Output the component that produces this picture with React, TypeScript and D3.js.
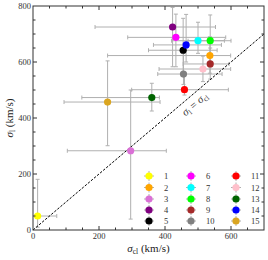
import * as d3 from "d3";
import { useEffect, useRef } from "react";

// cluster ids and colours
const ids = [1, 2, 3, 4, 5, 6, 7, 8, 9, 10, 11, 12, 13, 14, 15];
const colors = [
  "#ffff00", "#ffa500", "#da70d6", "#800080", "#000000",
  "#ff00ff", "#00ffff", "#00ff00", "#a52a2a", "#808080",
  "#ff0000", "#ffc0cb", "#006400", "#0000ff", "#daa520",
];
// sigma_cl (x) and sigma_l (y), km/s
const sigmaCl = [14, 536, 296, 423, 455, 433, 500, 537, 537, 456, 459, 515, 360, 464, 226];
const sigmaL = [50, 623, 283, 725, 642, 688, 676, 676, 593, 557, 501, 575, 473, 661, 457];
// error bar extents (low / high ends)
const clLow = [6, 226, 104, 188, 350, 287, 420, 470, 455, 378, 299, 382, 148, 365, 94];
const clHigh = [72, 599, 404, 553, 558, 584, 580, 600, 594, 573, 592, 599, 383, 571, 385];
const lLow = [10, 560, 39, 583, 548, 583, 631, 600, 539, 520, 482, 530, 425, 600, 301];
const lHigh = [181, 690, 500, 795, 756, 771, 742, 768, 650, 640, 560, 621, 524, 770, 604];

const xTicks = [0, 200, 400, 600];
const yTicks = [0, 200, 400, 600, 800];

const W = 268, H = 260;
const margin = { top: 6, right: 4, bottom: 30, left: 33 };
const font = "'Liberation Serif', 'DejaVu Serif', serif";

const App = () => {
  const ref = useRef<SVGSVGElement>(null);

  useEffect(() => {
    const svg = d3.select(ref.current);
    svg.selectAll("*").remove();

    const x = d3.scaleLinear().domain([0, 700]).range([margin.left, W - margin.right]);
    const y = d3.scaleLinear().domain([0, 800]).range([H - margin.bottom, margin.top]);

    const data = ids.map((id, i) => ({
      id, color: colors[i], x: sigmaCl[i], y: sigmaL[i],
      x0: clLow[i], x1: clHigh[i], y0: lLow[i], y1: lHigh[i],
    }));

    const errColor = "#b0b0b0";
    const cap = 2;

    // error bars
    const eb = svg.append("g").attr("stroke", errColor).attr("stroke-width", 1);
    data.forEach((d) => {
      const cy = y(d.y), cx = x(d.x);
      eb.append("line").attr("x1", x(d.x0)).attr("x2", x(d.x1)).attr("y1", cy).attr("y2", cy);
      eb.append("line").attr("x1", x(d.x0)).attr("x2", x(d.x0)).attr("y1", cy - cap).attr("y2", cy + cap);
      eb.append("line").attr("x1", x(d.x1)).attr("x2", x(d.x1)).attr("y1", cy - cap).attr("y2", cy + cap);
      eb.append("line").attr("x1", cx).attr("x2", cx).attr("y1", y(d.y0)).attr("y2", y(d.y1));
      eb.append("line").attr("x1", cx - cap).attr("x2", cx + cap).attr("y1", y(d.y0)).attr("y2", y(d.y0));
      eb.append("line").attr("x1", cx - cap).attr("x2", cx + cap).attr("y1", y(d.y1)).attr("y2", y(d.y1));
    });

    // one-to-one line
    svg.append("line")
      .attr("x1", x(0)).attr("y1", y(0)).attr("x2", x(700)).attr("y2", y(700))
      .attr("stroke", "#000").attr("stroke-width", 1).attr("stroke-dasharray", "2.5,1.5");

    // points
    svg.append("g").selectAll("circle").data(data).enter().append("circle")
      .attr("cx", (d) => x(d.x)).attr("cy", (d) => y(d.y)).attr("r", 3.6)
      .attr("fill", (d) => d.color);

    // frame + ticks
    const frame = svg.append("g").attr("stroke", "#333").attr("stroke-width", 1);
    frame.append("rect")
      .attr("x", x(0)).attr("y", y(800)).attr("width", x(700) - x(0)).attr("height", y(0) - y(800))
      .attr("fill", "none");
    d3.range(50, 700, 50).forEach((v) => {
      const len = v % 200 === 0 ? 4 : 2.5;
      frame.append("line").attr("x1", x(v)).attr("x2", x(v)).attr("y1", y(0)).attr("y2", y(0) - len);
      frame.append("line").attr("x1", x(v)).attr("x2", x(v)).attr("y1", y(800)).attr("y2", y(800) + len);
    });
    d3.range(50, 800, 50).forEach((v) => {
      const len = v % 200 === 0 ? 4 : 2.5;
      frame.append("line").attr("x1", x(0)).attr("x2", x(0) + len).attr("y1", y(v)).attr("y2", y(v));
      frame.append("line").attr("x1", x(700)).attr("x2", x(700) - len).attr("y1", y(v)).attr("y2", y(v));
    });

    // tick labels
    svg.append("g").selectAll("text").data(xTicks).enter().append("text")
      .attr("x", (d) => x(d)).attr("y", y(0) + 8.5)
      .attr("text-anchor", "middle").attr("font-family", font).attr("font-size", 8.5)
      .attr("fill", "#333").text((d) => d);
    svg.append("g").selectAll("text").data(yTicks).enter().append("text")
      .attr("x", x(0) - 2).attr("y", (d) => y(d) + 3)
      .attr("text-anchor", "end").attr("font-family", font).attr("font-size", 8.5)
      .attr("fill", "#333").text((d) => d);

    // axis labels
    const xl = svg.append("text")
      .attr("x", (x(0) + x(700)) / 2).attr("y", H - 8)
      .attr("text-anchor", "middle").attr("font-family", font).attr("font-size", 11).attr("fill", "#222");
    xl.append("tspan").attr("font-style", "italic").text("σ");
    xl.append("tspan").attr("font-size", 7.5).attr("dy", 2).text("cl");
    xl.append("tspan").attr("dy", -2).text(" (km/s)");

    const yl = svg.append("text")
      .attr("transform", `translate(13,${(y(0) + y(800)) / 2}) rotate(-90)`)
      .attr("text-anchor", "middle").attr("font-family", font).attr("font-size", 11).attr("fill", "#222");
    yl.append("tspan").attr("font-style", "italic").text("σ");
    yl.append("tspan").attr("font-size", 7.5).attr("dy", 2).text("l");
    yl.append("tspan").attr("dy", -2).text(" (km/s)");

    // diagonal label
    const ang = (Math.atan2(y(0) - y(700), x(700) - x(0)) * 180) / Math.PI;
    const dl = svg.append("text")
      .attr("transform", `translate(${x(497)},${y(440)}) rotate(${-ang})`)
      .attr("text-anchor", "middle").attr("font-family", font).attr("font-size", 11).attr("fill", "#333");
    dl.append("tspan").attr("font-style", "italic").text("σ");
    dl.append("tspan").attr("font-size", 7.5).attr("dy", 2).text("l");
    dl.append("tspan").attr("dy", -2).text(" = ");
    dl.append("tspan").attr("font-style", "italic").text("σ");
    dl.append("tspan").attr("font-size", 7.5).attr("dy", 2).text("cl");

    // legend: 3 columns x 5 rows
    const colX = [149, 191, 236];
    const rowY = [176, 187.5, 199, 210, 221];
    const lg = svg.append("g");
    data.forEach((d, i) => {
      const cx = colX[Math.floor(i / 5)], cy = rowY[i % 5];
      const g = lg.append("g");
      g.append("line").attr("x1", cx - 5).attr("x2", cx + 5).attr("y1", cy).attr("y2", cy)
        .attr("stroke", errColor);
      g.append("line").attr("x1", cx).attr("x2", cx).attr("y1", cy - 5).attr("y2", cy + 5)
        .attr("stroke", errColor);
      g.append("circle").attr("cx", cx).attr("cy", cy).attr("r", 3.6).attr("fill", d.color);
      g.append("text").attr("x", cx + 15).attr("y", cy + 3)
        .attr("font-family", font).attr("font-size", 8.5).attr("fill", "#333").text(d.id);
    });
  }, []);

  return (
    <svg
      ref={ref}
      width={W}
      height={H}
      style={{ position: "fixed", left: 0, top: 0, background: "#fff" }}
    />
  );
};

export default App;
